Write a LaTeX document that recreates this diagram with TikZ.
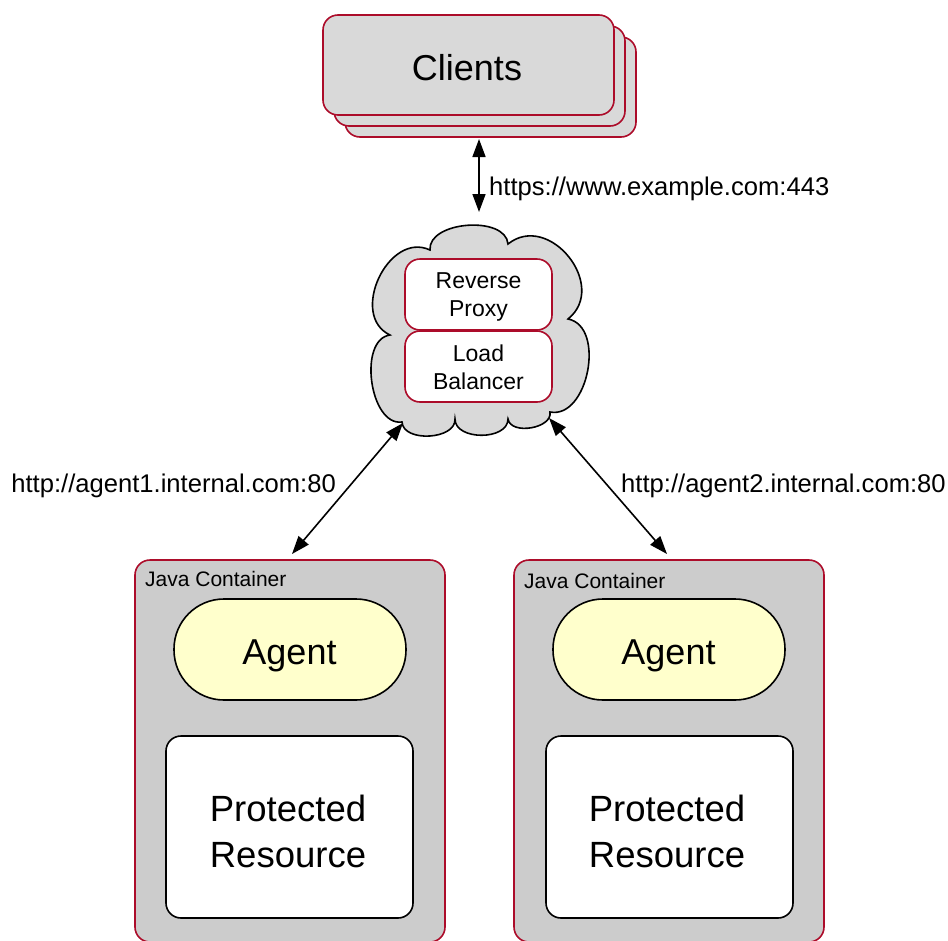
\documentclass[tikz,border=0pt]{standalone}
\usepackage{fontspec}
\setmainfont{Liberation Sans}
\usetikzlibrary{arrows.meta}
\definecolor{crim}{RGB}{172,12,42}
\definecolor{lgray}{RGB}{217,217,217}
\definecolor{cgray}{RGB}{204,204,204}
\definecolor{lyel}{RGB}{255,255,204}
\tikzset{
  clientbox/.style={draw=crim, fill=lgray, line width=1.6pt, rounded corners=15pt, minimum width=291pt, minimum height=100pt, inner sep=0pt, font=\fontsize{36}{44}\selectfont},
  svcbox/.style={draw=crim, fill=white, line width=1.6pt, rounded corners=15pt, minimum width=147pt, minimum height=71pt, inner sep=0pt, align=center, font=\fontsize{23}{28}\selectfont},
  container/.style={draw=crim, fill=cgray, line width=1.6pt, rounded corners=15pt, minimum width=310pt, minimum height=382pt, inner sep=0pt},
  agentbox/.style={draw=black, fill=lyel, line width=1.6pt, rounded corners=50pt, minimum width=232pt, minimum height=101pt, inner sep=0pt, text depth=0pt, font=\fontsize{36}{44}\selectfont},
  resbox/.style={draw=black, fill=white, line width=1.6pt, rounded corners=15pt, minimum width=247pt, minimum height=182pt, inner sep=0pt, align=center, font=\fontsize{36}{46}\selectfont},
  cloudshape/.style={draw=black, fill=lgray, line width=1.6pt},
  biarrow/.style={{Triangle[length=18pt,width=13pt]}-{Triangle[length=18pt,width=13pt]}, line width=1.6pt},
  lbl/.style={inner sep=0pt, font=\fontsize{25.6}{30}\selectfont},
  jlbl/.style={inner sep=0pt, anchor=west, font=\fontsize{21}{25}\selectfont},
  txt/.style={inner sep=0pt, align=center}
}
\begin{document}
\begin{tikzpicture}[x=1pt,y=-1pt]
\useasboundingbox (0,0) rectangle (948,940);
% clients stack
\node[clientbox] (cl3) at (490.5,87) {};
\node[clientbox] (cl2) at (479.5,76) {};
\node[clientbox] (cl1) at (468.5,65) {};
\node[txt, font=\fontsize{36}{44}\selectfont] (clt) at (467,68) {Clients};
% cloud
\draw[cloudshape] (430,250)
  to[bend left=90,looseness=0.95] (508,244)
  to[bend left=90,looseness=1.4] (568,319)
  to[bend left=90,looseness=1.05] (550,412)
  to[bend left=90,looseness=1.0] (508,419)
  to[bend left=90,looseness=1.05] (455,419)
  to[bend left=90,looseness=1.0] (402,422)
  to[bend left=90,looseness=0.95] (390,335)
  to[bend left=90,looseness=1.25] (430,250) -- cycle;
\node[svcbox] (rp) at (478.5,294.5) {};
\node[svcbox] (lb) at (478.5,366.5) {};
\node[txt, font=\fontsize{23}{28}\selectfont] (rpt) at (478.5,296.5) {Reverse\\Proxy};
\node[txt, font=\fontsize{23}{28}\selectfont] (lbt) at (478.5,367.5) {Load\\Balancer};
% containers
\node[container] (jc1) at (290,751) {};
\node[container] (jc2) at (669,751) {};
\node[jlbl] (jl1) at (145,579) {Java Container};
\node[jlbl] (jl2) at (524,581) {Java Container};
\node[agentbox] (ag1) at (290,649.5) {};
\node[agentbox] (ag2) at (669,649.5) {};
\node[txt, text depth=0pt, font=\fontsize{36}{44}\selectfont] (ag1t) at (289.5,652) {Agent};
\node[txt, text depth=0pt, font=\fontsize{36}{44}\selectfont] (ag2t) at (668.5,652) {Agent};
\node[resbox] (pr1) at (289.5,827) {};
\node[resbox] (pr2) at (669.5,827) {};
\node[txt, font=\fontsize{36.5}{46}\selectfont] (pr1t) at (288,831) {Protected\\Resource};
\node[txt, font=\fontsize{36.5}{46}\selectfont] (pr2t) at (667,831) {Protected\\Resource};
% connector ends
\coordinate (t0) at (479,139);
\coordinate (t1) at (479,212);
\coordinate (l0) at (403,423);
\coordinate (l1) at (292,554);
\coordinate (r0) at (549,418);
\coordinate (r1) at (667,554);
\draw[biarrow] (t0) -- (t1);
\draw[biarrow] (l0) -- (l1);
\draw[biarrow] (r0) -- (r1);
\node[lbl, anchor=west] (tl) at (489,189) {https://www.example.com:443};
\node[lbl, anchor=east] (ll) at (336,486) {http://agent1.internal.com:80};
\node[lbl, anchor=west] (rl) at (621,486) {http://agent2.internal.com:80};
\end{tikzpicture}
\end{document}
